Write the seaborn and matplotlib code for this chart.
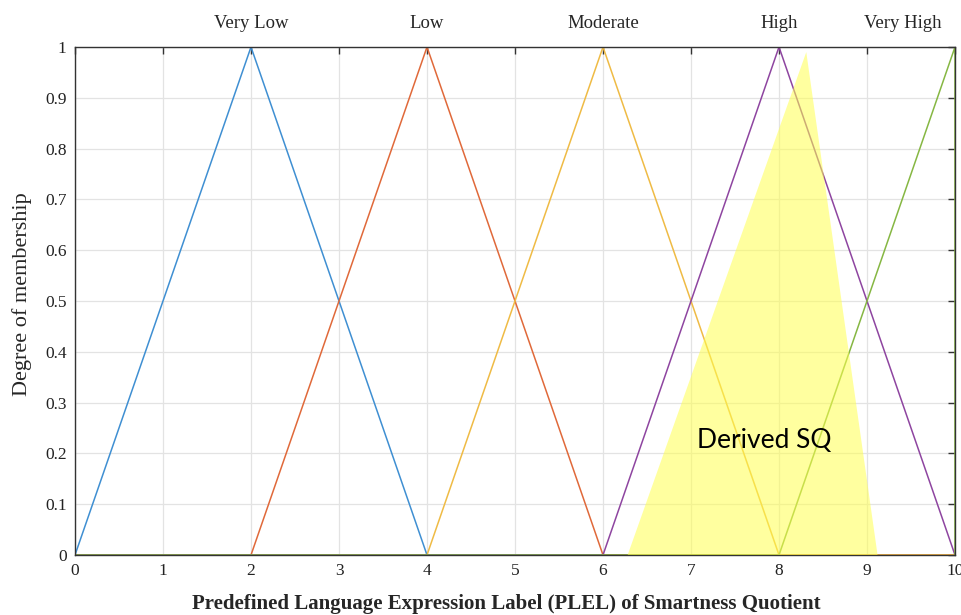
import numpy as np
import pandas as pd
import matplotlib
matplotlib.use("Agg")
import matplotlib.pyplot as plt
import seaborn as sns

# ---- data ----
mf_names = ["Very Low", "Low", "Moderate", "High", "Very High"]
mf_a = [0, 2, 4, 6, 8]      # left foot
mf_b = [2, 4, 6, 8, 10]     # peak
mf_c = [4, 6, 8, 10, 10]    # right foot
mf_colors = ["#3f8fd2", "#e0693a", "#efbb45", "#8e45a0", "#86b743"]
label_x = [2, 4, 6, 8, 9.41]

sq_x = [6.28, 8.31, 9.12]
sq_y = [0.0, 0.99, 0.0]

x_range = [0, 10]

rows = []
for name, a, b, c in zip(mf_names, mf_a, mf_b, mf_c):
    xs = [x_range[0], a, b, c, x_range[1]]
    ys = [0, 0, 1, 0, 0]
    for i, (xv, yv) in enumerate(zip(xs, ys)):
        rows.append({"mf": name, "x": xv, "y": yv, "order": i})
df = pd.DataFrame(rows)

sns.set_theme(style="white")
plt.rcParams["font.family"] = ["Liberation Serif", "DejaVu Serif"]

fig = plt.figure(figsize=(9.61, 6.15), dpi=100)
ax = fig.add_axes([75/961, 60/615, 880/961, 508/615])

sns.lineplot(data=df, x="x", y="y", hue="mf", hue_order=mf_names,
             palette=mf_colors, sort=False, estimator=None, units="mf",
             legend=False, linewidth=1.1, ax=ax)

ax.fill(sq_x, sq_y, color="#ffff50", alpha=0.55, linewidth=0, zorder=5)
ax.text(7.83, 0.226, "Derived SQ", fontsize=19, family=["Lato", "DejaVu Sans"],
        ha="center", va="center", color="black", zorder=6)

for name, lx in zip(mf_names, label_x):
    ax.text(lx, 1.047, name, ha="center", va="center", fontsize=13.5,
            transform=ax.transData, clip_on=False)

ax.set_xlim(0, 10)
ax.set_ylim(0, 1)
ax.set_xticks(np.arange(0, 11, 1))
ax.set_yticks(np.round(np.arange(0, 1.01, 0.1), 1))
ax.set_xticklabels([str(i) for i in range(11)])
ax.set_yticklabels(["0"] + [f"{v:.1f}" for v in np.arange(0.1, 1.0, 0.1)] + ["1"])
ax.grid(True, color="#e3e3e3", linewidth=0.9, zorder=0)
ax.set_axisbelow(True)
ax.tick_params(direction="in", length=5, width=1, colors="#333333",
               labelsize=12.5, top=True, right=True, labelcolor="#222222", pad=6)
for sp in ax.spines.values():
    sp.set_color("#333333")
    sp.set_linewidth(1.0)

ax.set_xlabel("Predefined Language Expression Label (PLEL) of Smartness Quotient",
              fontsize=15, fontweight="bold")
ax.set_ylabel("Degree of membership", fontsize=16)
ax.xaxis.set_label_coords(0.49, -0.076)
ax.yaxis.set_label_coords(-0.049, 0.514)

fig.savefig("out.png", dpi=100)
